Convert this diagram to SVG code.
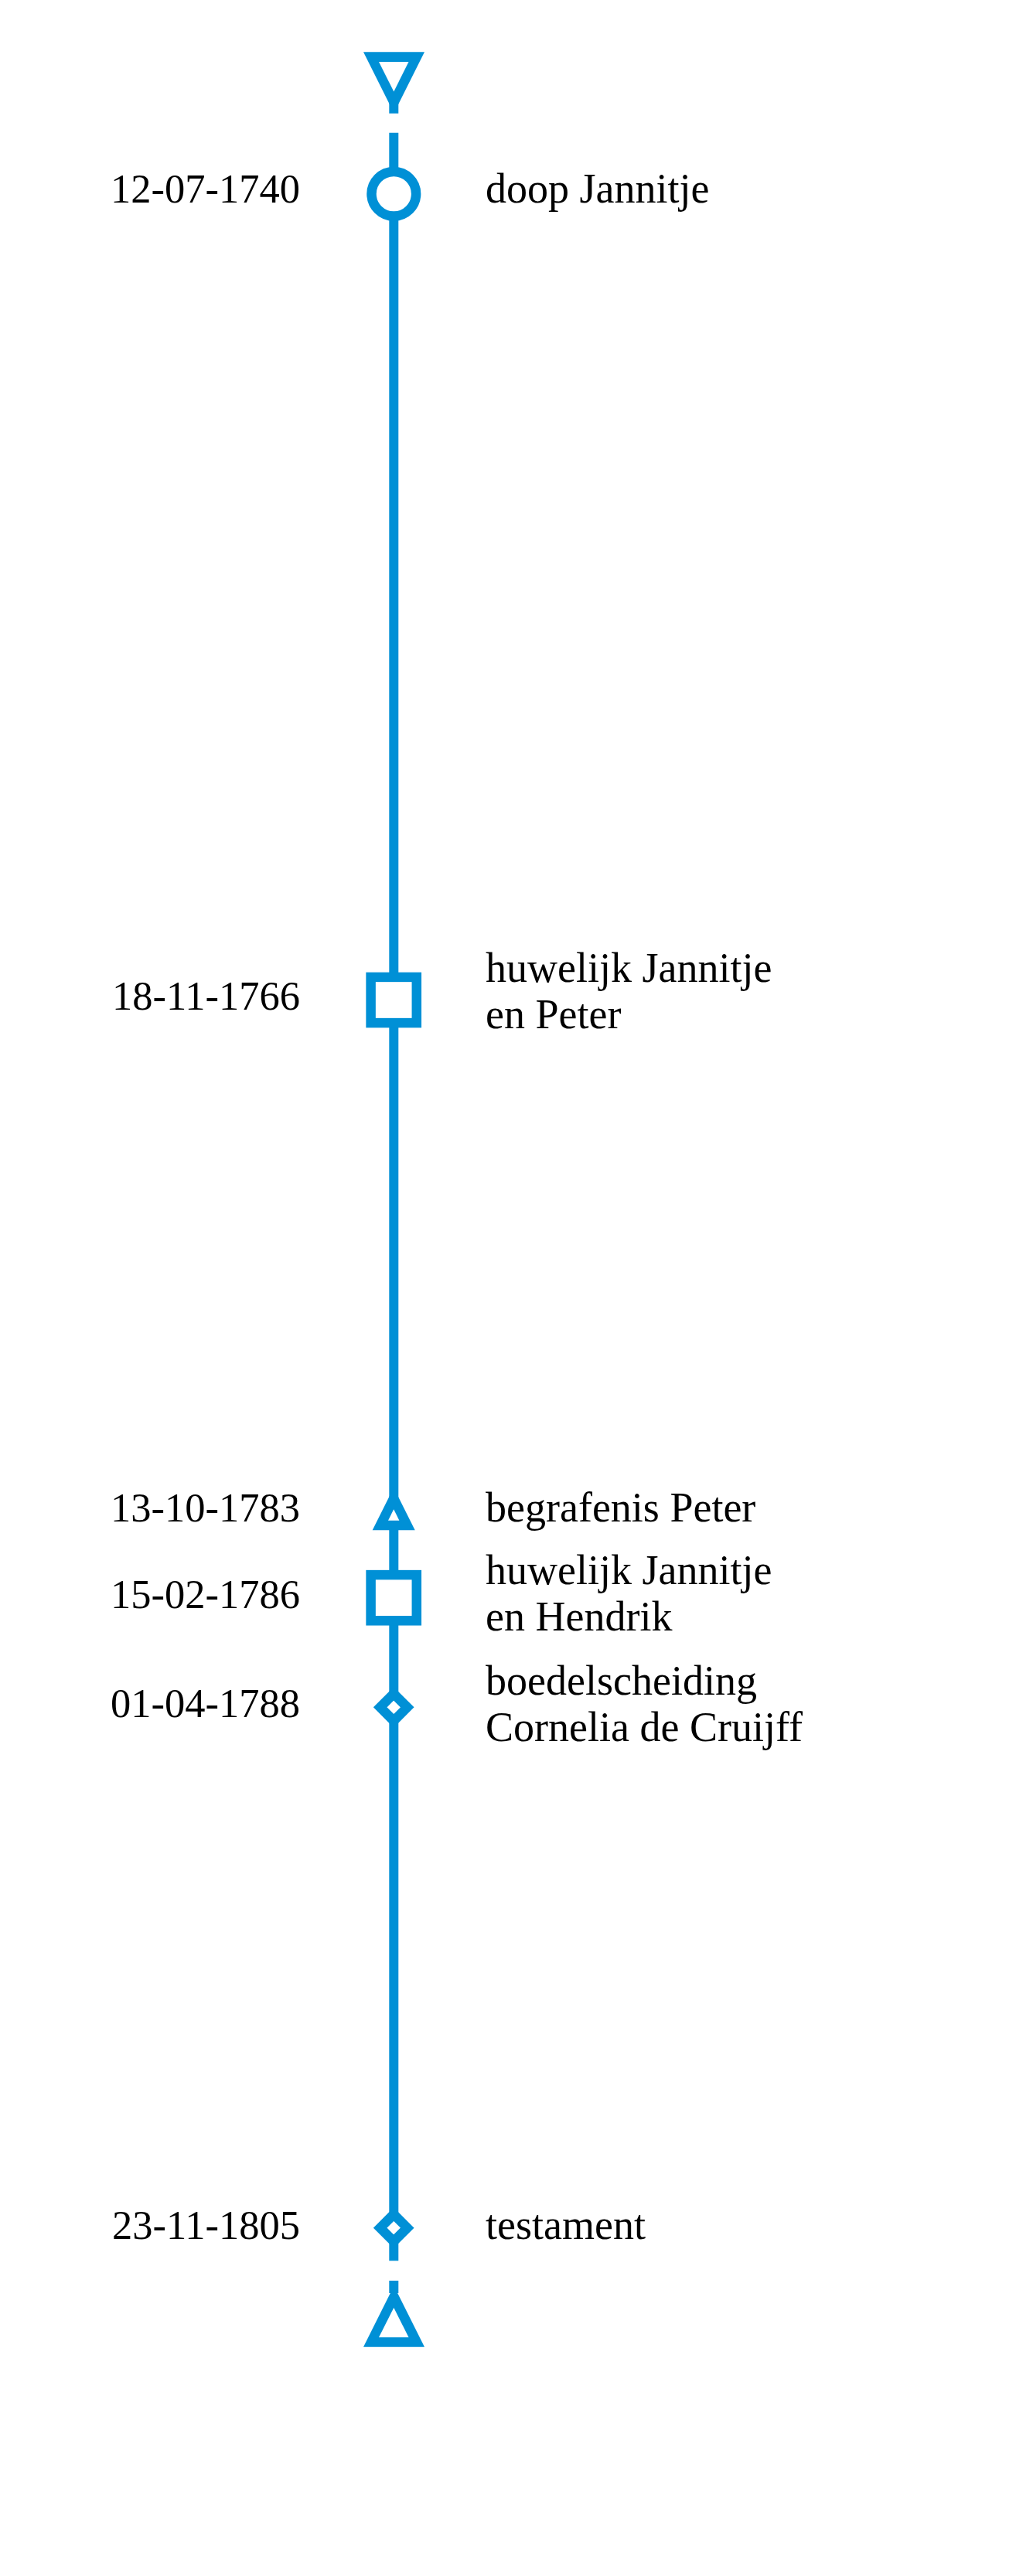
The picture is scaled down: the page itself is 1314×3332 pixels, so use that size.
<svg xmlns="http://www.w3.org/2000/svg" width="1314" height="3332" viewBox="0 0 1314 3332">
<style>
.ln{stroke:#0090d6;stroke-width:12;fill:none}
.sh{stroke:#0090d6;stroke-width:12.5;fill:#fff;stroke-linejoin:miter}
.b{fill:#0090d6}
.w{fill:#fff}
text{font-family:"Liberation Serif","Times New Roman",serif;font-size:54px;fill:#000}
.d{text-anchor:end;font-size:52.5px}
</style>
<rect width="1314" height="3332" fill="#fff"/>
<g id="connectors">
<line class="ln" x1="509.3" y1="128" x2="509.3" y2="146.7"/>
<line class="ln" x1="509.3" y1="171.7" x2="509.3" y2="2924.3"/>
<line class="ln" x1="509.3" y1="2950" x2="509.3" y2="2966"/>
</g>
<g id="start">
<polygon class="b" points="470,67.3 549,67.3 509.5,146.3"/>
<polygon class="w" points="490,80 528.5,80 509.3,118.5"/>
</g>
<g id="e1740">
<circle class="sh" cx="509.3" cy="250.7" r="28.8"/>
<text class="d" x="388" y="262.3">12-07-1740</text>
<text x="628" y="262.3">doop Jannitje</text>
</g>
<g id="e1766">
<rect class="sh" x="479.6" y="1263.9" width="59.2" height="59.2"/>
<text class="d" x="388" y="1306">18-11-1766</text>
<text x="628" y="1270">huwelijk Jannitje</text>
<text x="628" y="1330">en Peter</text>
</g>
<g id="e1783">
<polygon class="b" points="481.7,1979.3 536.7,1979.3 509.2,1924.3"/>
<polygon class="w" points="502,1966.7 516.4,1966.7 509.2,1952.3"/>
<text class="d" x="388" y="1967.5">13-10-1783</text>
<text x="628" y="1967.5">begrafenis Peter</text>
</g>
<g id="e1786">
<rect class="sh" x="479.6" y="2037.1" width="59.2" height="59.2"/>
<text class="d" x="388" y="2080">15-02-1786</text>
<text x="628" y="2049">huwelijk Jannitje</text>
<text x="628" y="2109">en Hendrik</text>
</g>
<g id="e1788">
<polygon class="sh" points="509.2,2190.8 526.7,2208.3 509.2,2225.8 491.7,2208.3"/>
<text class="d" x="388" y="2220.7">01-04-1788</text>
<text x="628" y="2191.7">boedelscheiding</text>
<text x="628" y="2251.7">Cornelia de Cruijff</text>
</g>
<g id="e1805">
<polygon class="sh" points="509.2,2864.2 526.7,2881.7 509.2,2899.2 491.7,2881.7"/>
<text class="d" x="388" y="2896">23-11-1805</text>
<text x="628" y="2896">testament</text>
</g>
<g id="end">
<polygon class="b" points="470,3035.7 549,3035.7 509.5,2956.7"/>
<polygon class="w" points="490,3023.3 528.5,3023.3 509.3,2985"/>
</g>
</svg>
